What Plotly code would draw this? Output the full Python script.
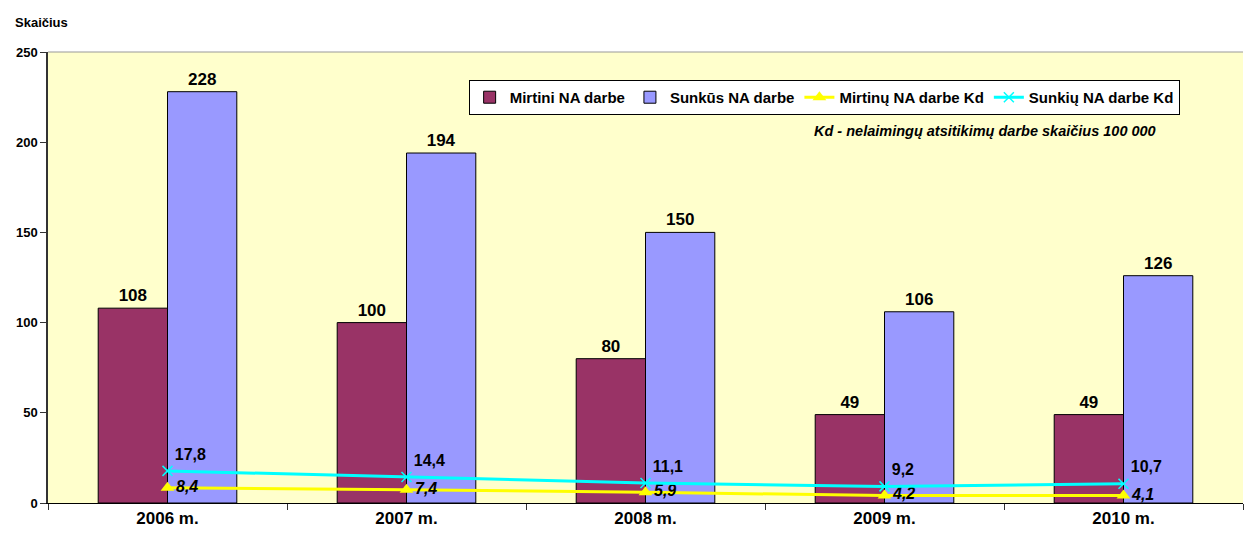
import plotly.graph_objects as go

years = ["2006 m.", "2007 m.", "2008 m.", "2009 m.", "2010 m."]
mirtini = [108, 100, 80, 49, 49]
sunkus = [228, 194, 150, 106, 126]
mirtinu_kd = [8.4, 7.4, 5.9, 4.2, 4.1]
sunkiu_kd = [17.8, 14.4, 11.1, 9.2, 10.7]
y_ticks = [0, 50, 100, 150, 200, 250]

def fmt(v):
    return f"{v:.1f}".replace(".", ",")

FONT = "Liberation Sans, Arial, sans-serif"

fig = go.Figure()
fig.add_trace(go.Bar(
    x=years, y=mirtini, name="<b>Mirtini NA darbe</b>",
    marker=dict(color="#993366", line=dict(color="black", width=1)),
    text=[f"<b>{v}</b>" for v in mirtini], textposition="outside",
    textfont=dict(size=17, color="black", family=FONT), cliponaxis=False,
))
fig.add_trace(go.Bar(
    x=years, y=sunkus, name="<b>Sunkūs NA darbe</b>",
    marker=dict(color="#9999FF", line=dict(color="black", width=1)),
    text=[f"<b>{v}</b>" for v in sunkus], textposition="outside",
    textfont=dict(size=17, color="black", family=FONT), cliponaxis=False,
))
fig.add_trace(go.Scatter(
    x=years, y=mirtinu_kd, name="<b>Mirtinų NA darbe Kd</b>", mode="lines+markers+text",
    line=dict(color="#FFFF00", width=3),
    marker=dict(symbol="triangle-up", size=12, color="#FFFF00"),
    text=[f"<b><i>{fmt(v)}</i></b>" for v in mirtinu_kd], textposition="middle right",
    textfont=dict(size=16, color="black", family=FONT), cliponaxis=False,
))
fig.add_trace(go.Scatter(
    x=years, y=sunkiu_kd, name="<b>Sunkių NA darbe Kd</b>", mode="lines+markers+text",
    line=dict(color="#00FFFF", width=3),
    marker=dict(symbol="x-thin", size=10, line=dict(color="#00FFFF", width=1.5)),
    text=[f"<b>{fmt(v)}</b>" for v in sunkiu_kd], textposition="top right",
    textfont=dict(size=16, color="black", family=FONT), cliponaxis=False,
))

fig.update_layout(
    width=1245, height=534,
    margin=dict(l=48, r=2, t=52, b=31),
    paper_bgcolor="white", plot_bgcolor="#FFFFCC",
    barmode="group", bargap=0.42, bargroupgap=0,
    font=dict(family=FONT, size=13, color="black"),
    showlegend=True,
    legend=dict(
        orientation="h", x=0.352, y=0.938, xanchor="left", yanchor="top",
        bgcolor="white", bordercolor="black", borderwidth=1,
        font=dict(size=15, family=FONT), itemwidth=30,
        traceorder="normal", tracegroupgap=0,
    ),
    xaxis=dict(
        type="category", showline=True, linecolor="black", linewidth=1,
        ticks="outside", tickson="boundaries", ticklen=6, tickcolor="#333",
        tickfont=dict(size=17, family=FONT), automargin=False,
        showgrid=False,
    ),
    yaxis=dict(
        range=[0, 250], tickvals=y_ticks, ticktext=[f"<b>{v}</b>" for v in y_ticks],
        showline=True, linecolor="#333", linewidth=1.5,
        ticks="outside", ticklen=6, tickcolor="#333",
        tickfont=dict(size=13, family=FONT), automargin=False,
        showgrid=False, zeroline=False,
    ),
    shapes=[dict(type="line", xref="paper", yref="paper", x0=0, x1=1, y0=1, y1=1,
                 line=dict(color="#999999", width=1))],
    annotations=[
        dict(text="<b>Skaičius</b>", xref="paper", yref="paper", x=-0.029, y=1.066,
             xanchor="left", yanchor="middle", showarrow=False,
             font=dict(size=13, family=FONT)),
        dict(text="<b><i>Kd - nelaimingų atsitikimų darbe skaičius 100 000</i></b>",
             xref="paper", yref="paper", x=0.929, y=0.825,
             xanchor="right", yanchor="middle", showarrow=False,
             font=dict(size=14.5, family=FONT)),
    ],
)
fig.update_xaxes(ticktext=[f"<b>{y}</b>" for y in years], tickvals=years)

fig.write_html("out.html", config={"displayModeBar": False},
               post_script="document.body.style.margin='0';")
